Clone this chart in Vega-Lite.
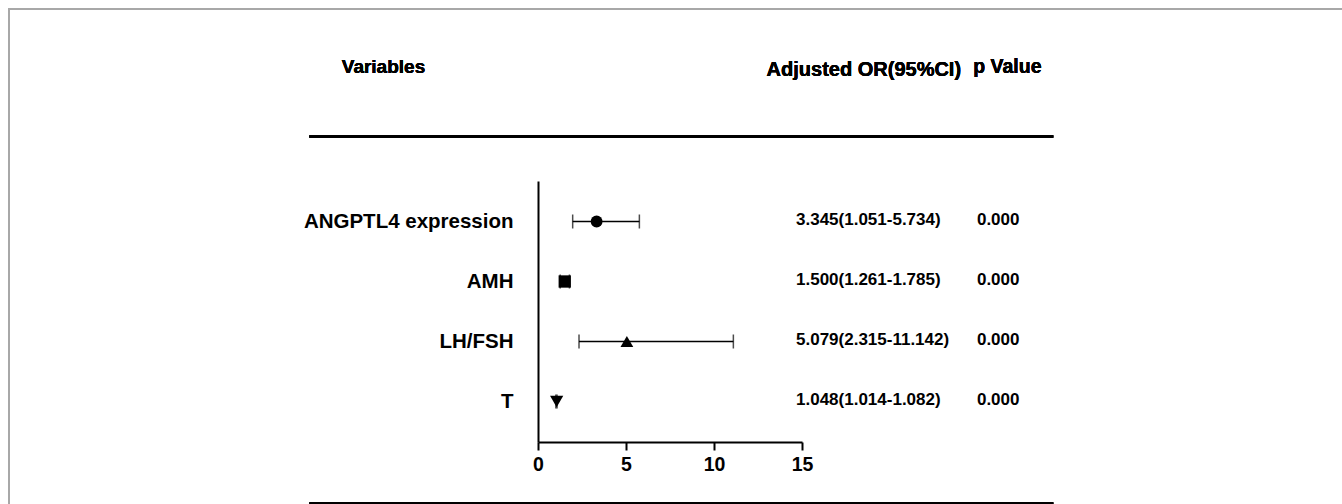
{
  "$schema": "https://vega.github.io/schema/vega-lite/v6.json",
  "width": 264,
  "height": 261,
  "autosize": {"type": "none"},
  "padding": {"left": 538, "top": 181, "right": 540, "bottom": 62},
  "background": "white",
  "config": {
    "view": {"stroke": null},
    "font": "Liberation Sans",
    "text": {"font": "Liberation Sans", "fontWeight": "bold", "color": "black"}
  },
  "data": {
    "values": [
      {"variable": "ANGPTL4 expression", "row": 1, "or": 3.33, "lo": 1.97, "hi": 5.76, "ci": "3.345(1.051-5.734)", "p": "0.000"},
      {"variable": "AMH", "row": 2, "or": 1.52, "lo": 1.261, "hi": 1.785, "ci": "1.500(1.261-1.785)", "p": "0.000"},
      {"variable": "LH/FSH", "row": 3, "or": 5.05, "lo": 2.33, "hi": 11.1, "ci": "5.079(2.315-11.142)", "p": "0.000"},
      {"variable": "T", "row": 4, "or": 1.06, "lo": 1.014, "hi": 1.082, "ci": "1.048(1.014-1.082)", "p": "0.000"}
    ]
  },
  "layer": [
    {
      "mark": {"type": "rect", "fill": null, "filled": false, "stroke": "#a8a8a8", "strokeWidth": 1.5},
      "encoding": {
        "x": {"datum": -30.06, "type": "quantitative", "scale": {"domain": [0, 15], "nice": false, "zero": false},
              "axis": {"values": [0, 5, 10, 15], "title": null, "grid": false, "domain": true, "domainColor": "black", "domainWidth": 2,
                       "ticks": true, "tickColor": "black", "tickWidth": 2, "tickSize": 8, "labelPadding": 5,
                       "labelFont": "Liberation Sans", "labelFontWeight": "bold", "labelFontSize": 19.5, "labelColor": "black", "labelFlush": false}},
        "x2": {"datum": 120},
        "y": {"datum": -2.542, "type": "quantitative", "scale": {"domain": [0.325, 4.675], "nice": false, "zero": false, "reverse": true},
              "axis": {"title": null, "grid": false, "domain": true, "domainColor": "black", "domainWidth": 2, "ticks": false, "labels": false}},
        "y2": {"datum": 20}
      }
    },
    {
      "mark": {"type": "rule", "color": "black", "strokeWidth": 2.5},
      "encoding": {
        "x": {"datum": -12.99, "type": "quantitative"},
        "x2": {"datum": 29.28},
        "y": {"datum": -0.4167, "type": "quantitative"}
      }
    },
    {
      "mark": {"type": "rule", "color": "black", "strokeWidth": 2.5},
      "encoding": {
        "x": {"datum": -12.99, "type": "quantitative"},
        "x2": {"datum": 29.28},
        "y": {"datum": 5.7, "type": "quantitative"}
      }
    },
    {
      "mark": {"type": "text", "text": "Variables", "align": "left", "baseline": "middle", "fontSize": 19},
      "encoding": {
        "x": {"datum": -11.15, "type": "quantitative"},
        "y": {"datum": -1.583, "type": "quantitative"}
      }
    },
    {
      "mark": {"type": "text", "text": "Adjusted OR(95%CI)", "align": "left", "baseline": "middle", "fontSize": 20},
      "encoding": {
        "x": {"datum": 12.99, "type": "quantitative"},
        "y": {"datum": -1.525, "type": "quantitative"}
      }
    },
    {
      "mark": {"type": "text", "text": "p Value", "align": "left", "baseline": "middle", "fontSize": 19.5},
      "encoding": {
        "x": {"datum": 24.73, "type": "quantitative"},
        "y": {"datum": -1.567, "type": "quantitative"}
      }
    },
    {
      "mark": {"type": "rule", "color": "black", "strokeWidth": 1.5},
      "encoding": {
        "x": {"field": "lo", "type": "quantitative"},
        "x2": {"field": "hi"},
        "y": {"field": "row", "type": "quantitative"}
      }
    },
    {
      "mark": {"type": "tick", "orient": "vertical", "color": "black", "size": 14, "thickness": 1.5},
      "encoding": {
        "x": {"field": "lo", "type": "quantitative"},
        "y": {"field": "row", "type": "quantitative"}
      }
    },
    {
      "mark": {"type": "tick", "orient": "vertical", "color": "black", "size": 14, "thickness": 1.5},
      "encoding": {
        "x": {"field": "hi", "type": "quantitative"},
        "y": {"field": "row", "type": "quantitative"}
      }
    },
    {
      "mark": {"type": "point", "filled": true, "color": "black", "opacity": 1},
      "encoding": {
        "x": {"field": "or", "type": "quantitative"},
        "y": {"field": "row", "type": "quantitative"},
        "shape": {"field": "variable", "type": "nominal", "legend": null,
                  "scale": {"domain": ["ANGPTL4 expression", "AMH", "LH/FSH", "T"], "range": ["circle", "square", "triangle-up", "triangle-down"]}},
        "size": {"field": "variable", "type": "nominal", "legend": null,
                 "scale": {"domain": ["ANGPTL4 expression", "AMH", "LH/FSH", "T"], "range": [140, 175, 210, 210]}}
      }
    },
    {
      "mark": {"type": "text", "align": "right", "baseline": "middle", "fontSize": 20.5},
      "encoding": {
        "x": {"datum": -1.392, "type": "quantitative"},
        "y": {"field": "row", "type": "quantitative"},
        "text": {"field": "variable"}
      }
    },
    {
      "mark": {"type": "text", "align": "left", "baseline": "middle", "fontSize": 17, "dy": -2},
      "encoding": {
        "x": {"datum": 14.66, "type": "quantitative"},
        "y": {"field": "row", "type": "quantitative"},
        "text": {"field": "ci"}
      }
    },
    {
      "mark": {"type": "text", "align": "left", "baseline": "middle", "fontSize": 17, "dy": -2},
      "encoding": {
        "x": {"datum": 24.94, "type": "quantitative"},
        "y": {"field": "row", "type": "quantitative"},
        "text": {"field": "p"}
      }
    }
  ]
}
